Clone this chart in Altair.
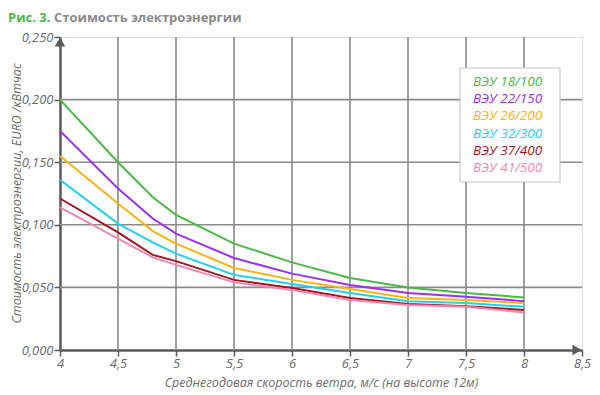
import altair as alt
import pandas as pd

speeds = [4, 4.5, 4.8, 5, 5.5, 6, 6.5, 7, 7.5, 8]
series_names = ["ВЭУ 18/100", "ВЭУ 22/150", "ВЭУ 26/200", "ВЭУ 32/300", "ВЭУ 37/400", "ВЭУ 41/500"]
series_colors = ["#4db848", "#9b30f5", "#f9b312", "#1fd0f0", "#a31521", "#f287b4"]
v18 = [0.200, 0.150, 0.122, 0.108, 0.0850, 0.0700, 0.0575, 0.0500, 0.0455, 0.0420]
v22 = [0.175, 0.129, 0.105, 0.093, 0.0735, 0.0610, 0.0520, 0.0455, 0.0425, 0.0390]
v26 = [0.155, 0.117, 0.095, 0.085, 0.0655, 0.0560, 0.0487, 0.0415, 0.0400, 0.0375]
v32 = [0.136, 0.101, 0.086, 0.077, 0.0600, 0.0527, 0.0455, 0.0390, 0.0375, 0.0345]
v37 = [0.121, 0.094, 0.076, 0.071, 0.0560, 0.0495, 0.0415, 0.0367, 0.0350, 0.0320]
v41 = [0.114, 0.089, 0.074, 0.068, 0.0540, 0.0480, 0.0400, 0.0360, 0.0345, 0.0300]
x_ticks = [4, 4.5, 5, 5.5, 6, 6.5, 7, 7.5, 8, 8.5]
y_ticks = [0.0, 0.05, 0.10, 0.15, 0.20, 0.25]
x_grid = [4.5, 5, 5.5, 6, 6.5, 7, 7.5, 8]
y_grid = [0.05, 0.10, 0.15, 0.20]

all_vals = [v18, v22, v26, v32, v37, v41]
rows = []
for name, vals in zip(series_names, all_vals):
    for s, v in zip(speeds, vals):
        rows.append({"speed": s, "cost": v, "series": name})
df = pd.DataFrame(rows)

FONT = "Open Sans"
AX = "#5a5a5a"
GRID = "#8a8a8a"
LBL = "#6b6b6b"

xs = alt.Scale(domain=[4, 8.5], nice=False, zero=False)
ys = alt.Scale(domain=[0, 0.25], nice=False)

X_TITLE = "Среднегодовая скорость ветра, м/с (на высоте 12м)"
Y_TITLE = "Стоимость электроэнергии, EURO /кВтчас"

xaxis = alt.Axis(
    values=x_ticks, grid=False, domain=True, domainColor=AX, domainWidth=2.5,
    ticks=True, tickColor=AX, tickWidth=1.5, tickSize=6,
    labelExpr="replace(format(datum.value, ''), '.', ',')",
    labelFont=FONT, labelFontStyle="italic", labelFontSize=13, labelColor=LBL, labelPadding=1,
    labelFlush=False, title=X_TITLE,
    titleFont=FONT, titleFontStyle="italic", titleFontWeight="normal", titleFontSize=12.5,
    titleColor=LBL, titlePadding=6)
yaxis = alt.Axis(
    values=y_ticks, grid=False, domain=True, domainColor=AX, domainWidth=2.5,
    ticks=True, tickColor=AX, tickWidth=1.5, tickSize=6,
    labelExpr="replace(format(datum.value, '.3f'), '.', ',')",
    labelFont=FONT, labelFontStyle="italic", labelFontSize=13, labelColor=LBL, labelPadding=1,
    labelFlush=False, title=Y_TITLE,
    titleFont=FONT, titleFontStyle="italic", titleFontWeight="normal", titleFontSize=12.5,
    titleColor=LBL, titleX=-37, titleY=156)

xgrid = alt.Chart(pd.DataFrame({"speed": x_grid})).mark_rule(color=GRID, strokeWidth=1.6).encode(
    x=alt.X("speed:Q", scale=xs, axis=xaxis, title=X_TITLE)
)
ygrid = alt.Chart(pd.DataFrame({"cost": y_grid})).mark_rule(color=GRID, strokeWidth=1.6).encode(
    y=alt.Y("cost:Q", scale=ys, axis=yaxis, title=Y_TITLE)
)

# legend box
box = alt.Chart(pd.DataFrame({"a": [0]})).mark_rect(fill="white", stroke="#c8c8c8", strokeWidth=1.2).encode(
    x=alt.value(400), x2=alt.value(500), y=alt.value(31), y2=alt.value(145)
)

lines = alt.Chart(df).mark_line(strokeWidth=2).encode(
    x=alt.X("speed:Q", scale=xs, axis=xaxis, title=X_TITLE),
    y=alt.Y("cost:Q", scale=ys, axis=yaxis, title=Y_TITLE),
    color=alt.Color("series:N", scale=alt.Scale(domain=series_names, range=series_colors), legend=None),
    detail="series:N",
)

arrow_up = alt.Chart(pd.DataFrame({"speed": [4], "cost": [0.25]})).mark_point(
    shape="triangle-up", filled=True, color=AX, size=110, opacity=1, yOffset=5
).encode(x=alt.X("speed:Q", scale=xs, axis=xaxis, title=X_TITLE),
         y=alt.Y("cost:Q", scale=ys, axis=yaxis, title=Y_TITLE))
arrow_right = alt.Chart(pd.DataFrame({"speed": [8.5], "cost": [0.0]})).mark_point(
    shape="triangle-right", filled=True, color=AX, size=110, opacity=1, xOffset=-5
).encode(x=alt.X("speed:Q", scale=xs, axis=xaxis, title=X_TITLE),
         y=alt.Y("cost:Q", scale=ys, axis=yaxis, title=Y_TITLE))

leg_df = pd.DataFrame({"series": series_names, "idx": list(range(len(series_names)))})
legend_text = alt.Chart(leg_df).transform_calculate(
    ypix="45 + datum.idx * 17.2"
).mark_text(align="left", baseline="middle", font=FONT, fontStyle="italic", fontSize=13.5).encode(
    x=alt.value(413),
    y=alt.Y("ypix:Q", scale=None, axis=None),
    text="series:N",
    color=alt.Color("series:N", scale=alt.Scale(domain=series_names, range=series_colors), legend=None),
)

title_df = pd.DataFrame({"t": ["Рис. 3."], "u": ["Стоимость электроэнергии"]})
title1 = alt.Chart(title_df).mark_text(align="left", baseline="middle", font=FONT, fontWeight="bold",
                                       fontSize=13, color="#4db848").encode(
    x=alt.value(-52), y=alt.value(-19), text="t:N")
title2 = alt.Chart(title_df).mark_text(align="left", baseline="middle", font=FONT, fontWeight="bold",
                                       fontSize=13, color="#8a8a8a").encode(
    x=alt.value(-6), y=alt.value(-19), text="u:N")

chart = alt.layer(xgrid, ygrid, box, lines, arrow_up, arrow_right, legend_text, title1, title2).properties(
    width=522, height=313,
    autosize=alt.AutoSizeParams(type="none"),
    padding={"left": 52, "top": 29, "right": 10, "bottom": 40},
).configure_view(stroke=None).configure(background="white")

chart.save("out.html", embed_options={"renderer": "svg", "actions": False})
